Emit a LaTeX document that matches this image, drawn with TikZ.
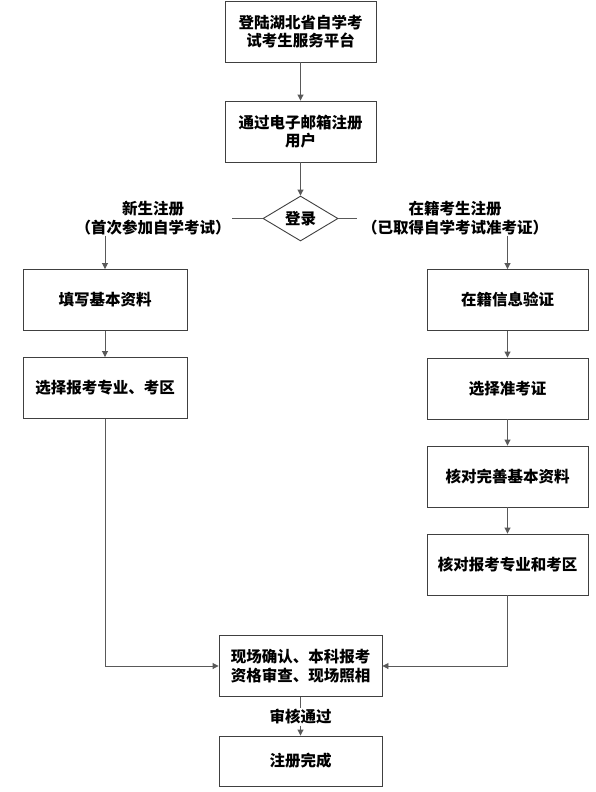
\documentclass[tikz,border=0pt]{standalone}
\usepackage{fontspec}
\setmainfont{Noto Sans CJK SC}
\usetikzlibrary{arrows.meta,shapes.geometric}
\begin{document}
\begin{tikzpicture}[x=1pt,y=-1pt,
  every node/.style={font=\bfseries\fontsize{15.5}{18.5}\selectfont, align=center},
  box/.style={draw=black!75, line width=0.9pt, minimum width=162pt, minimum height=61pt, inner sep=2pt},
  lbl/.style={inner sep=1pt},
  conn/.style={draw=black!65, line width=0.9pt},
  arr/.style={conn, -{Triangle[width=6pt,length=6pt]}}]
\useasboundingbox (0,0) rectangle (596,792);
\fill[white] (0,0) rectangle (596,792);
\node[box, minimum width=151pt] (b1) at (300.5,31.5) {登陆湖北省自学考\\试考生服务平台};
\node[box, minimum width=151pt] (b2) at (300.5,131.5) {通过电子邮箱注册\\用户};
\node[draw=black!75, line width=0.9pt, shape=diamond, aspect=1.67, minimum width=75pt, minimum height=45pt, inner sep=0pt] (d) at (300.5,218.5) {登录};
\node[lbl] (ll) at (153,218) {新生注册\\（首次参加自学考试）};
\node[lbl] (rl) at (455,218) {在籍考生注册\\（已取得自学考试准考证）};
\node[box, minimum width=164pt] (b3) at (105,300) {填写基本资料};
\node[box, minimum width=164pt] (b4) at (105,388) {选择报考专业、考区};
\node[box, minimum width=161pt] (b5) at (507.5,300) {在籍信息验证};
\node[box, minimum width=161pt] (b6) at (507.5,388.5) {选择准考证};
\node[box, minimum width=161pt] (b7) at (507.5,476.5) {核对完善基本资料};
\node[box, minimum width=161pt] (b8) at (507.5,564.5) {核对报考专业和考区};
\node[box, minimum width=163pt] (b9) at (300.5,666) {现场确认、本科报考\\资格审查、现场照相};
\node[box, minimum width=163pt, minimum height=50pt] (b10) at (300.5,761) {注册完成};
\node[fill=white, inner sep=1pt] (ok) at (300.5,717) {审核通过};
\draw[arr] (b1) -- (b2);
\draw[arr] (b2) -- (d);
\draw[conn] (d.west) -- (232,218.5) coordinate (le);
\draw[conn] (d.east) -- (357,218.5) coordinate (re);
\draw[arr] (ll.south -| b3.north) -- (b3.north);
\draw[arr] (rl.south -| b5.north) -- (b5.north);
\draw[arr] (b3) -- (b4);
\draw[arr] (b5) -- (b6);
\draw[arr] (b6) -- (b7);
\draw[arr] (b7) -- (b8);
\draw[arr] (b4.south) |- (b9.west);
\draw[arr] (b8.south) |- (b9.east);
\draw[conn] (b9.south) -- (ok.north);
\draw[arr] (ok.south) -- (b10.north);
\end{tikzpicture}
\end{document}
